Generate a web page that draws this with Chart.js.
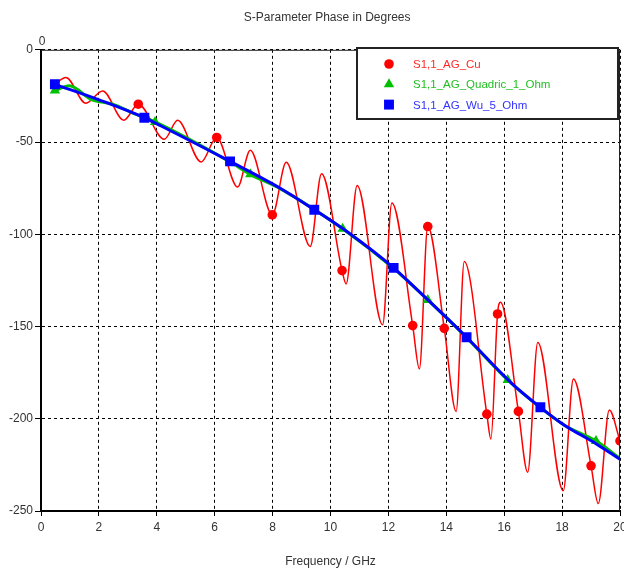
<!DOCTYPE html>
<html>
<head>
<meta charset="utf-8">
<script src="https://cdn.jsdelivr.net/npm/chart.js@4/dist/chart.umd.min.js"></script>
<style>
  html, body { margin: 0; padding: 0; background: #fff; overflow: hidden; }
</style>
</head>
<body>
<canvas id="phaseChart" width="624" height="572"></canvas>
<script>
// S1,1_AG_Cu (extrema plus marker samples)
const cuFreq = [0.48, 0.86, 1.55, 2.13, 2.86, 3.36, 4.26, 4.72, 5.53, 6.07, 6.79, 7.23, 7.99, 8.47, 9.30, 9.69,
                10.40, 10.54, 10.92, 11.80, 12.12, 12.84, 13.07, 13.36, 13.93, 14.34, 14.62, 15.40, 15.54, 15.77,
                15.87, 16.49, 16.81, 17.16, 18.04, 18.39, 19.00, 19.25, 19.63, 20.00];
const cuPhase = [-18.5, -15, -29, -22.3, -38.2, -29.5, -48.5, -38.2, -60.8, -47.5, -74.4, -54.5, -89.5, -61, -106.6, -67.2,
                 -119.7, -126.9, -73.5, -149, -83.1, -149.5, -173, -95.8, -151, -196, -114.8, -197.5, -211, -143.2,
                 -136.9, -196, -229, -158.6, -239, -178.5, -225.5, -246, -195.3, -212];
const cuMarks = [3.36, 6.07, 7.99, 10.40, 12.84, 13.36, 13.93, 15.40, 15.77, 16.49, 19.00, 20.00];

// S1,1_AG_Quadric_1_Ohm
const quadFreq = [0.48, 0.98, 1.74, 2.48, 3.20, 3.94, 6.53, 7.23, 8.29, 10.42, 12.18, 13.36, 14.70, 16.12, 17.25, 18.08, 19.17, 20.00];
const quadPhase = [-22, -19.5, -27, -29.5, -34.5, -39.1, -60.8, -67.5, -75.5, -97, -118.5, -135.6, -156, -179, -194, -203.5, -212, -221.5];
const quadMarks = [0.48, 3.94, 7.23, 10.42, 13.36, 16.12, 19.17];

// S1,1_AG_Wu_5_Ohm
const wuFreq = [0.48, 2.07, 3.57, 4.15, 6.53, 8.29, 9.44, 10.59, 12.18, 12.78, 14.70, 16.24, 17.25, 18.08, 19.17, 20.00];
const wuPhase = [-18.7, -27.5, -36.8, -41.3, -60.5, -75.3, -86.7, -98.8, -118.2, -126.9, -155.8, -180.5, -193.8, -203.5, -213.5, -222];
const wuMarks = [0.48, 3.57, 6.53, 9.44, 12.18, 14.70, 17.25];

const xTicks = [0, 2, 4, 6, 8, 10, 12, 14, 16, 18, 20];
const yTicks = [0, -50, -100, -150, -200, -250];

function toPoints(fs, ps) {
    return fs.map(function (f, i) { return { x: f, y: ps[i] }; });
}
function markerRadius(fs, marks, r) {
    return function (ctx) {
        return marks.indexOf(fs[ctx.dataIndex]) >= 0 ? r : 0;
    };
}

const FONT = "'Liberation Sans', Arial, sans-serif";
const Y_AXIS_W = 41;
const RIGHT_GAP = 4;

// legend box inside the plot, plus the solid frame
const boxPlugin = {
    id: 'boxPlugin',
    afterLayout(chart) {
        // let the last x label hang over the edge, like the original
        const sx = chart.scales.x;
        const target = chart.width - RIGHT_GAP;
        sx.right = target;
        sx.width = target - sx.left;
        sx.configure();
        chart.chartArea.right = target;
        chart.chartArea.width = target - chart.chartArea.left;
    },
    afterDatasetsDraw(chart) {
        const sx = chart.scales.x, sy = chart.scales.y;
        const left = sx.getPixelForValue(0), right = sx.getPixelForValue(20);
        const top = sy.getPixelForValue(0), bottom = sy.getPixelForValue(-250);
        const ctx = chart.ctx;
        ctx.save();
        ctx.strokeStyle = '#222';
        ctx.lineWidth = 1;
        ctx.beginPath();
        ctx.moveTo(left, top + 0.5);
        ctx.lineTo(right - 0.5, top + 0.5);
        ctx.lineTo(right - 0.5, bottom);
        ctx.stroke();
        // stray "0" above the axis corner
        ctx.fillStyle = '#333';
        ctx.font = '12px ' + FONT;
        ctx.textAlign = 'center';
        ctx.textBaseline = 'middle';
        ctx.fillText('0', left + 1, top - 8);
        ctx.restore();
    },
    afterDraw(chart) {
        const ctx = chart.ctx;
        const x0 = 357, y0 = 48, w = 261, h = 71;
        ctx.save();
        ctx.fillStyle = '#fff';
        ctx.fillRect(x0, y0, w, h);
        ctx.strokeStyle = '#222';
        ctx.lineWidth = 2;
        ctx.strokeRect(x0, y0, w, h);
        ctx.font = '11.5px ' + FONT;
        ctx.textBaseline = 'middle';
        ctx.textAlign = 'left';
        chart.data.datasets.forEach(function (ds, i) {
            const y = 64 + i * 20.3;
            ctx.fillStyle = ds.pointBackgroundColor;
            ctx.strokeStyle = ds.pointBackgroundColor;
            Chart.helpers.drawPoint(ctx, { pointStyle: ds.pointStyle, radius: ds.legendRadius, borderWidth: 0, rotation: 0 }, 389, y);
            ctx.fillStyle = ds.textColor;
            ctx.fillText(ds.label, 413, y + 1);
        });
        ctx.restore();
    }
};

new Chart(document.getElementById('phaseChart'), {
    type: 'line',
    data: {
        datasets: [{
            label: 'S1,1_AG_Cu',
            data: toPoints(cuFreq, cuPhase),
            borderColor: '#ff0000',
            borderWidth: 1.5,
            pointStyle: 'circle',
            pointBackgroundColor: '#ff0000',
            pointBorderWidth: 0,
            pointRadius: markerRadius(cuFreq, cuMarks, 4.8),
            legendRadius: 4.8,
            textColor: '#ff2a2a',
            cubicInterpolationMode: 'monotone',
            order: 3
        }, {
            label: 'S1,1_AG_Quadric_1_Ohm',
            data: toPoints(quadFreq, quadPhase),
            borderColor: '#00c000',
            borderWidth: 3,
            pointStyle: 'triangle',
            pointBackgroundColor: '#00c000',
            pointBorderWidth: 0,
            pointRadius: markerRadius(quadFreq, quadMarks, 6),
            legendRadius: 6,
            textColor: '#22c022',
            cubicInterpolationMode: 'monotone',
            order: 2
        }, {
            label: 'S1,1_AG_Wu_5_Ohm',
            data: toPoints(wuFreq, wuPhase),
            borderColor: '#0000ff',
            borderWidth: 3,
            pointStyle: 'rect',
            pointBackgroundColor: '#0000ff',
            pointBorderWidth: 0,
            pointRadius: markerRadius(wuFreq, wuMarks, 7),
            legendRadius: 7,
            textColor: '#3333ff',
            cubicInterpolationMode: 'monotone',
            order: 1
        }]
    },
    options: {
        responsive: false,
        animation: false,
        layout: { padding: { left: 0, right: RIGHT_GAP, top: 0, bottom: 0 } },
        plugins: {
            legend: { display: false },
            tooltip: { enabled: false },
            title: {
                display: true,
                text: 'S-Parameter Phase in Degrees',
                color: '#333',
                font: { family: FONT, size: 12, weight: 'normal' },
                fullSize: false,
                padding: { top: 10, bottom: 25.4 }
            }
        },
        scales: {
            x: {
                type: 'linear',
                min: 0,
                max: 20,
                afterBuildTicks: function (scale) { scale.ticks = xTicks.map(function (v) { return { value: v }; }); },
                afterFit: function (scale) { scale.height = 61; },
                ticks: { color: '#333', font: { family: FONT, size: 12 }, padding: 4, maxRotation: 0 },
                grid: { color: '#000', lineWidth: 1, tickLength: 5, tickColor: '#000' },
                border: { display: true, color: '#000', width: 2, dash: [3, 3] },
                title: {
                    display: true,
                    text: 'Frequency / GHz',
                    color: '#333',
                    font: { family: FONT, size: 12 },
                    padding: { top: 0, bottom: 3 }
                }
            },
            y: {
                type: 'linear',
                min: -250,
                max: 0,
                afterBuildTicks: function (scale) { scale.ticks = yTicks.map(function (v) { return { value: v }; }); },
                afterFit: function (scale) { scale.width = Y_AXIS_W; },
                ticks: { color: '#333', font: { family: FONT, size: 12 }, padding: 2 },
                grid: { color: '#000', lineWidth: 1, tickLength: 6, tickColor: '#000' },
                border: { display: true, color: '#000', width: 2, dash: [3, 3] }
            }
        }
    },
    plugins: [boxPlugin]
});
</script>
</body>
</html>
